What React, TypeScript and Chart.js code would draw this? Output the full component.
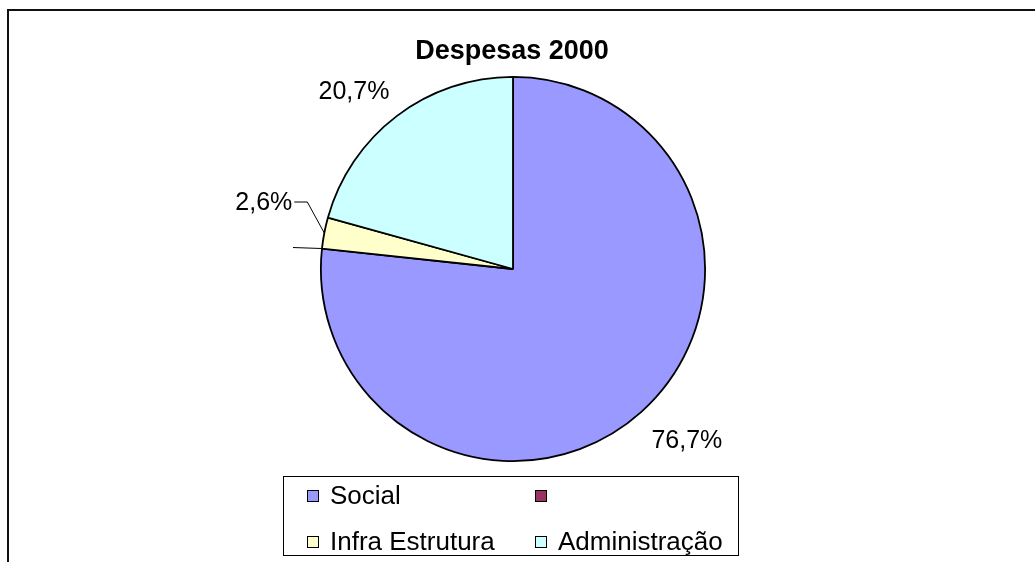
import React, { useEffect, useRef } from "react";
import { Chart, registerables } from "chart.js";

Chart.register(...registerables);

const categories = ["Social", "", "Infra Estrutura", "Administração"];
const seriesValues = [76.7, 0, 2.6, 20.7];
const sliceColors = ["#9999FF", "#993366", "#FFFFCC", "#CCFFFF"];
const chartTitle = "Despesas 2000";

const FONT = "'Liberation Sans', Arial, sans-serif";

function fmt(v: number) {
  return v.toFixed(1).replace(".", ",") + "%";
}

const overlayPlugin = {
  id: "overlay",
  afterDraw(chart: any) {
    const ctx = chart.ctx as CanvasRenderingContext2D;
    const W = chart.width;
    const H = chart.height;
    ctx.save();
    // frame
    ctx.fillStyle = "#111";
    ctx.fillRect(7, 9, W - 7, 2);
    ctx.fillRect(7, 9, 2, H - 9);

    // title
    ctx.fillStyle = "#000";
    ctx.font = `bold 27px ${FONT}`;
    ctx.textAlign = "center";
    ctx.textBaseline = "alphabetic";
    ctx.fillText(chartTitle, 512, 59);

    // labels
    const meta = chart.getDatasetMeta(0);
    ctx.font = `25px ${FONT}`;
    ctx.strokeStyle = "#000";
    ctx.lineWidth = 1;
    meta.data.forEach((arc: any, i: number) => {
      const v = seriesValues[i];
      const { x, y, startAngle, endAngle, outerRadius } = arc.getProps(
        ["x", "y", "startAngle", "endAngle", "outerRadius"],
        true
      );
      const mid = (startAngle + endAngle) / 2;
      const cx = Math.cos(mid);
      const cy = Math.sin(mid);
      const ex = x + cx * outerRadius;
      const ey = y + cy * outerRadius;
      if (v === 0) {
        ctx.beginPath();
        ctx.moveTo(ex, ey);
        ctx.lineTo(ex - 29, ey - 1);
        ctx.stroke();
        return;
      }
      const text = fmt(v);
      if (v < 5) {
        const kx = ex - 17;
        const ky = ey - 31;
        ctx.beginPath();
        ctx.moveTo(ex, ey);
        ctx.lineTo(kx, ky);
        ctx.lineTo(kx - 13, ky);
        ctx.stroke();
        ctx.textAlign = "right";
        ctx.textBaseline = "middle";
        ctx.fillText(text, kx - 15, ky + 1);
        return;
      }
      const d = outerRadius + 12;
      const ax = x + cx * d;
      const ay = y + cy * d;
      ctx.textAlign = cx >= 0 ? "left" : "right";
      ctx.textBaseline = cy >= 0 ? "top" : "bottom";
      ctx.fillText(text, ax + (cx >= 0 ? 2 : 0), ay + (cy >= 0 ? 8 : -2));
    });

    // legend
    const bx = 283, by = 476, bw = 455, bh = 79;
    ctx.fillStyle = "#fff";
    ctx.fillRect(bx, by, bw, bh);
    ctx.strokeStyle = "#000";
    ctx.lineWidth = 1;
    ctx.strokeRect(bx + 0.5, by + 0.5, bw, bh);
    const colX = [307, 535];
    const rowY = [496, 542];
    ctx.font = `26px ${FONT}`;
    ctx.textAlign = "left";
    ctx.textBaseline = "middle";
    categories.forEach((c, i) => {
      const mx = colX[i % 2];
      const my = rowY[Math.floor(i / 2)];
      ctx.fillStyle = sliceColors[i];
      ctx.fillRect(mx, my - 6, 12, 12);
      ctx.strokeStyle = "#000";
      ctx.strokeRect(mx + 0.5, my - 6 + 0.5, 11, 11);
      ctx.fillStyle = "#000";
      ctx.fillText(c, mx + 23, my + 1);
    });
    ctx.restore();
  },
};

export default function App() {
  const ref = useRef<HTMLCanvasElement | null>(null);
  useEffect(() => {
    if (!ref.current) return;
    const chart = new Chart(ref.current, {
      type: "pie",
      data: {
        labels: categories,
        datasets: [
          {
            data: seriesValues,
            backgroundColor: sliceColors,
            borderColor: "#000",
            borderWidth: 1.8,
          },
        ],
      },
      options: {
        responsive: false,
        animation: false,
        layout: { padding: { left: 320, right: 329, top: 76, bottom: 100 } },
        plugins: {
          legend: { display: false },
          title: { display: false },
          tooltip: { enabled: false },
        },
      },
      plugins: [overlayPlugin],
    });
    return () => chart.destroy();
  }, []);
  return (
    <div style={{ position: "fixed", left: 0, top: 0, width: 1035, height: 562, background: "#fff" }}>
      <canvas ref={ref} width={1035} height={562} style={{ display: "block" }} />
    </div>
  );
}
